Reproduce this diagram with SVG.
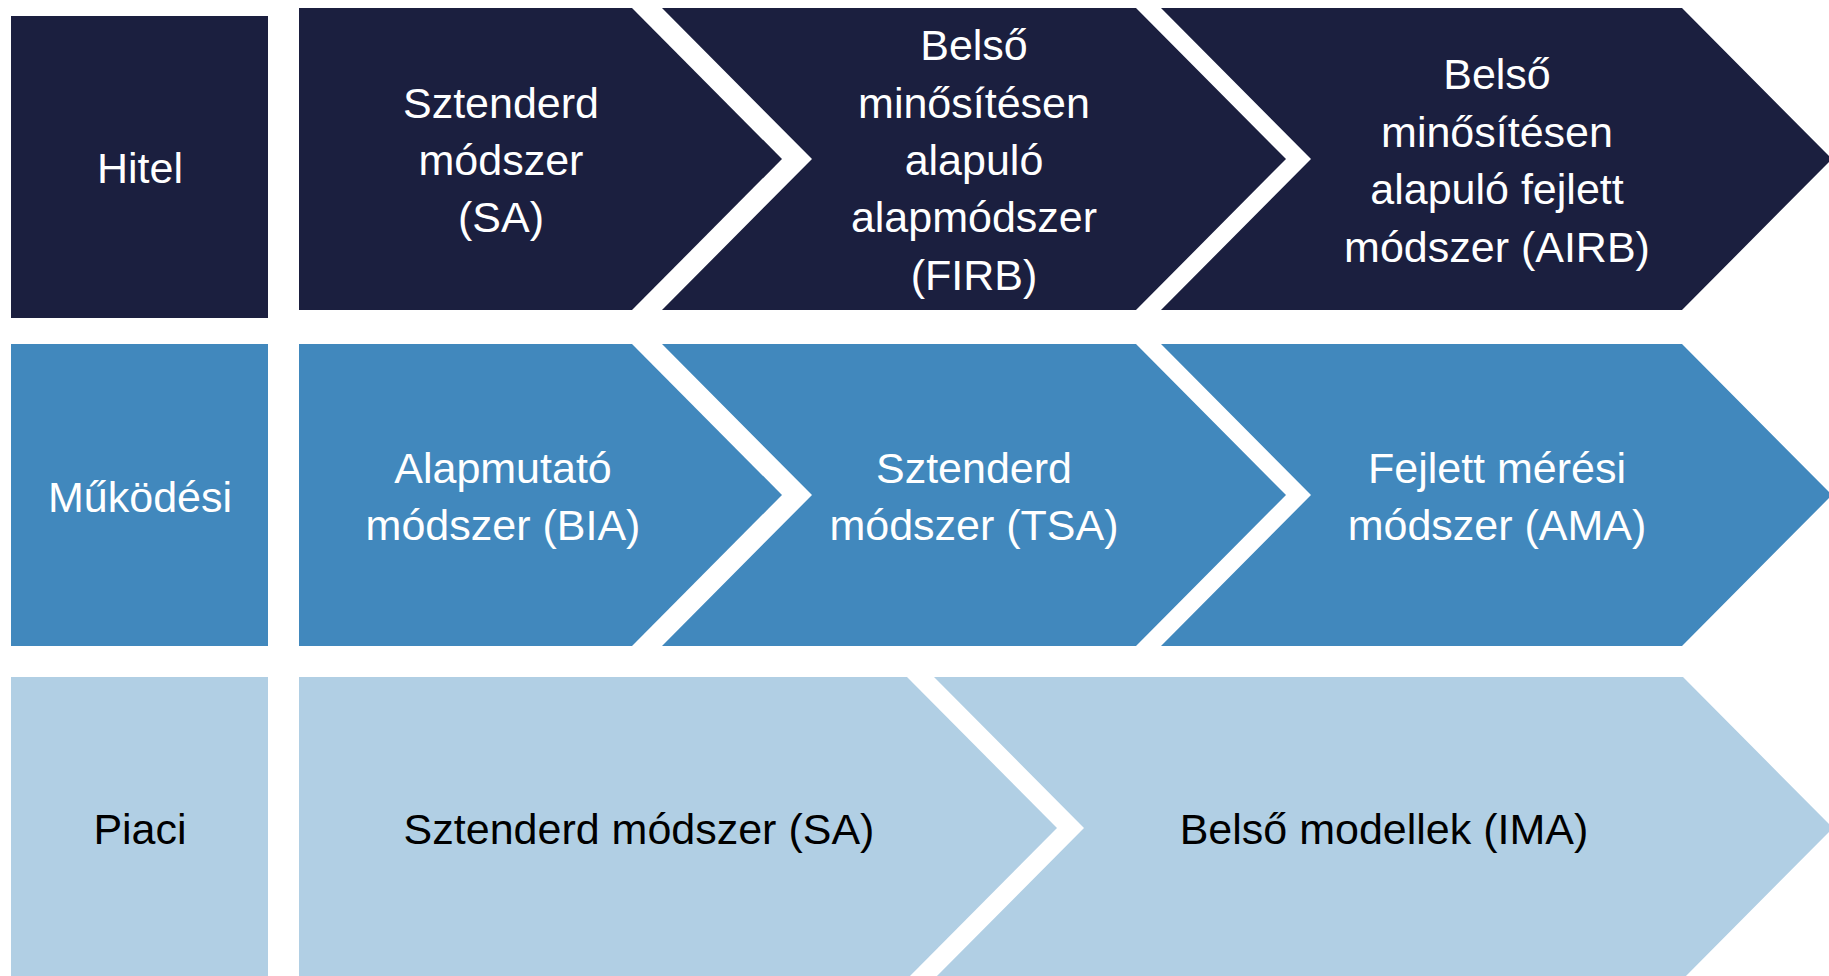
<svg xmlns="http://www.w3.org/2000/svg" width="1829" height="976" viewBox="0 0 1829 976">
<style>
.t{font-family:"Liberation Sans",Arial,sans-serif;font-size:43px;text-anchor:middle}
.w{fill:#ffffff}
.k{fill:#000000}
.r1{fill:#1B1F3F}
.r2{fill:#4188BD}
.r3{fill:#B1CFE4}
</style>
<rect width="1829" height="976" fill="#ffffff"/>
<g id="connectors"></g>
<g id="row1">
<g id="hitel"><rect class="r1" x="11" y="16" width="257" height="302"/><text class="t w" x="140" y="183">Hitel</text></g>
<g id="hitel-sa"><polygon class="r1" points="299,8 632,8 782,159 632,310 299,310"/>
<text class="t w" x="501" y="118">Sztenderd</text><text class="t w" x="501" y="175">módszer</text><text class="t w" x="501" y="232">(SA)</text></g>
<g id="hitel-firb"><polygon class="r1" points="662,8 1136,8 1286,159 1136,310 662,310 812,159"/>
<text class="t w" x="974" y="60">Belső</text><text class="t w" x="974" y="118">minősítésen</text><text class="t w" x="974" y="175">alapuló</text><text class="t w" x="974" y="232">alapmódszer</text><text class="t w" x="974" y="290">(FIRB)</text></g>
<g id="hitel-airb"><polygon class="r1" points="1161,8 1682,8 1832,159 1682,310 1161,310 1311,159"/>
<text class="t w" x="1497" y="89">Belső</text><text class="t w" x="1497" y="147">minősítésen</text><text class="t w" x="1497" y="204">alapuló fejlett</text><text class="t w" x="1497" y="262">módszer (AIRB)</text></g>
</g>
<g id="row2">
<g id="mukodesi"><rect class="r2" x="11" y="344" width="257" height="302"/><text class="t w" x="140" y="512">Működési</text></g>
<g id="muk-bia"><polygon class="r2" points="299,344 632,344 782,495 632,646 299,646"/>
<text class="t w" x="503" y="483">Alapmutató</text><text class="t w" x="503" y="540">módszer (BIA)</text></g>
<g id="muk-tsa"><polygon class="r2" points="662,344 1136,344 1286,495 1136,646 662,646 812,495"/>
<text class="t w" x="974" y="483">Sztenderd</text><text class="t w" x="974" y="540">módszer (TSA)</text></g>
<g id="muk-ama"><polygon class="r2" points="1161,344 1682,344 1832,495 1682,646 1161,646 1311,495"/>
<text class="t w" x="1497" y="483">Fejlett mérési</text><text class="t w" x="1497" y="540">módszer (AMA)</text></g>
</g>
<g id="row3">
<g id="piaci"><rect class="r3" x="11" y="677" width="257" height="302"/><text class="t k" x="140" y="844">Piaci</text></g>
<g id="piaci-sa"><polygon class="r3" points="299,677 907,677 1057,828 907,979 299,979"/>
<text class="t k" x="639" y="844">Sztenderd módszer (SA)</text></g>
<g id="piaci-ima"><polygon class="r3" points="934,677 1683,677 1833,828 1683,979 934,979 1084,828"/>
<text class="t k" x="1384" y="844">Belső modellek (IMA)</text></g>
</g>
</svg>
